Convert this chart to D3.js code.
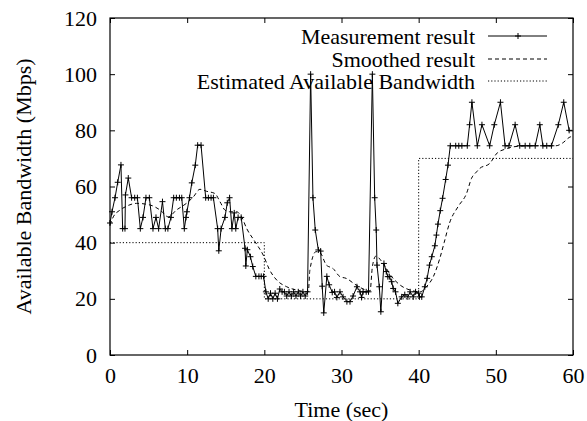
<!DOCTYPE html>
<html>
<head>
<meta charset="utf-8">
<script src="https://cdn.jsdelivr.net/npm/d3@7"></script>
<style>
  body { margin: 0; background: #fff; }
</style>
</head>
<body>
<div id="chart"></div>
<script>
// measurement result: [time (sec), Mbps]
const measured = [
  [0.0, 47], [0.26, 51], [0.65, 56], [1.0, 61.5], [1.42, 67.7], [1.64, 45], [1.94, 45], [2.0, 57],
  [2.37, 63], [2.8, 56], [3.2, 56], [3.55, 56], [3.93, 45], [4.28, 49], [4.66, 56], [5.1, 56],
  [5.57, 45], [5.96, 49], [6.3, 45], [6.8, 54.6], [7.17, 45], [7.5, 45], [7.9, 49], [8.25, 56],
  [8.6, 56], [9.0, 56], [9.3, 56], [9.63, 45], [9.85, 49], [9.97, 51], [10.3, 56], [10.6, 61.3],
  [11.05, 67.6], [11.36, 74.7], [11.8, 74.7], [12.4, 56], [12.75, 56], [13.1, 56], [13.4, 56],
  [13.95, 45], [14.1, 37.1], [14.4, 45], [14.9, 49], [15.2, 54.2], [15.5, 56], [15.8, 45],
  [16.1, 50.6], [16.3, 45], [16.6, 49], [17.0, 49], [17.5, 38], [17.6, 31.7], [17.8, 37.5],
  [18.2, 35], [18.5, 31.5], [18.9, 28], [19.3, 28], [19.6, 28], [19.9, 28], [20.2, 22.5],
  [20.5, 20], [20.8, 22], [21.1, 20], [21.4, 22], [21.7, 20], [22.0, 23.5], [22.3, 22.5],
  [22.6, 22.5], [22.9, 21], [23.2, 22.5], [23.5, 21], [23.8, 22.5], [24.1, 21], [24.4, 22.5],
  [24.7, 21], [25.0, 22.5], [25.3, 21], [25.6, 22.5], [26.0, 100], [26.3, 56], [26.6, 44.5],
  [27.0, 37.4], [27.3, 37], [27.5, 24.5], [27.7, 15], [28.1, 28], [28.4, 25], [28.8, 22.3],
  [29.1, 22.5], [29.4, 20.5], [29.8, 22.5], [30.2, 20.7], [30.7, 19], [31.1, 19], [31.5, 21],
  [32.0, 24.3], [32.4, 22.5], [32.6, 20.5], [32.8, 22.5], [33.2, 22.5], [33.5, 22.5], [34.0, 100],
  [34.3, 56], [34.5, 44.5], [34.6, 32], [34.9, 24.3], [35.1, 15.4], [35.5, 32.6], [35.8, 29.7],
  [36.0, 27.9], [36.2, 27.9], [36.5, 26.1], [36.7, 23.7], [37.0, 22.5], [37.3, 18.4], [37.8, 20.7],
  [38.2, 21.5], [38.6, 20.7], [38.9, 22.5], [39.3, 20.7], [39.6, 22.5], [40.0, 22], [40.1, 20.7],
  [40.4, 20.7], [40.8, 24.3], [41.1, 27.3], [41.4, 32], [41.7, 35], [42.1, 38.9], [42.3, 42.7],
  [42.5, 46.6], [42.8, 51.4], [43.1, 55.8], [43.5, 62.5], [43.8, 67.6], [44.1, 74.5], [44.8, 74.5],
  [45.2, 74.5], [45.6, 74.5], [46.3, 74.5], [46.6, 82], [46.9, 90], [47.6, 74.5], [48.2, 82],
  [49.2, 74.5], [49.8, 82], [50.6, 90], [51.2, 74.5], [51.7, 74.5], [52.5, 82], [53.1, 74.5],
  [53.8, 74.5], [54.4, 74.5], [55.1, 74.5], [55.7, 82], [56.1, 74.5], [56.6, 74.5], [57.2, 74.5],
  [58.1, 82], [58.8, 90], [59.5, 80]
]

// smoothed result
const smoothed = [
  [0, 46.3], [0.43, 49.2], [1.3, 51.6], [2.15, 53], [3.45, 54], [5.2, 53.4], [6.5, 51.6],
  [7.55, 49.2], [8.6, 51.6], [9.9, 54], [10.8, 56.3], [11.65, 59], [12.5, 58.3], [13.6, 57.5],
  [14.25, 54.6], [14.9, 51.6], [15.5, 51], [16.4, 51], [17.05, 49.2], [17.7, 45.1], [18.8, 40.3],
  [19.85, 35.6], [20.7, 30.2], [21.6, 26.7], [22.9, 24.3], [24.2, 23.1], [25.7, 22.5], [25.9, 30.2],
  [26.7, 36.8], [27.2, 36.5], [28.05, 32], [28.9, 30.8], [29.8, 27.9], [30.6, 27.3], [31.9, 24.9],
  [33.7, 22.8], [34.0, 31.4], [34.45, 35.2], [35.4, 32.6], [36.5, 27.9], [37.6, 24.9], [38.9, 23.1],
  [40.2, 22.5], [41.0, 24.3], [41.9, 27.9], [42.75, 34.5], [43.3, 40], [44.0, 47], [45.1, 52.8],
  [46.2, 57.5], [46.85, 62.9], [47.5, 65.2], [47.9, 66.4], [49.2, 68.2], [50.2, 72], [51.1, 73.2],
  [52.2, 74.1], [54.3, 74.5], [57.8, 74.5], [58.6, 75.4], [59.7, 77.7], [60, 77.8]
]

// estimated available bandwidth (step)
const estimated = [
  [0, 40], [20, 40], [20, 20], [40, 20], [40, 70], [60, 70]
]

const xTicks = [0, 10, 20, 30, 40, 50, 60]
const yTicks = [0, 20, 40, 60, 80, 100, 120]
const legendLabels = ['Measurement result', 'Smoothed result', 'Estimated Available Bandwidth']

const w = 587
const h = 421
const plotLeft = 110, plotRight = 573, plotTop = 18, plotBottom = 355
const serif = '"Liberation Serif"'
const fontSize = '22px'

const svg = d3.select('#chart')
    .append('svg')
    .attr('width', w)
    .attr('height', h)

const x = d3.scaleLinear().domain([0, 60]).range([plotLeft, plotRight])
const y = d3.scaleLinear().domain([0, 120]).range([plotBottom, plotTop])

// axes with inward ticks, mirrored on top and right
svg.append('g')
    .attr('transform', `translate(0,${plotBottom})`)
    .call(d3.axisBottom(x).tickValues(xTicks).tickSize(-5).tickPadding(12).tickFormat(d3.format('d')))

svg.append('g')
    .attr('transform', `translate(${plotLeft},0)`)
    .call(d3.axisLeft(y).tickValues(yTicks).tickSize(-5).tickPadding(13).tickFormat(d3.format('d')))

svg.append('g')
    .attr('transform', `translate(0,${plotTop})`)
    .call(d3.axisTop(x).tickValues(xTicks).tickSize(-5).tickFormat(''))

svg.append('g')
    .attr('transform', `translate(${plotRight},0)`)
    .call(d3.axisRight(y).tickValues(yTicks).tickSize(-5).tickFormat(''))

svg.selectAll('.domain').remove()
svg.selectAll('.tick line').attr('stroke', '#000')
svg.selectAll('.tick text')
    .style('font-family', serif)
    .style('font-size', fontSize)
    .attr('fill', '#000')

svg.append('rect')
    .attr('x', plotLeft)
    .attr('y', plotTop)
    .attr('width', plotRight - plotLeft)
    .attr('height', plotBottom - plotTop)
    .attr('fill', 'none')
    .attr('stroke', '#000')
    .attr('stroke-width', 1.2)

// axis titles
svg.append('text')
    .attr('x', (plotLeft + plotRight) / 2)
    .attr('y', 409)
    .attr('text-anchor', 'middle')
    .attr('dominant-baseline', 'central')
    .style('font-family', serif)
    .style('font-size', fontSize)
    .text('Time (sec)')

svg.append('text')
    .attr('transform', `translate(23,${(plotTop + plotBottom) / 2}) rotate(-90)`)
    .attr('text-anchor', 'middle')
    .attr('dominant-baseline', 'central')
    .style('font-family', serif)
    .style('font-size', fontSize)
    .text('Available Bandwidth (Mbps)')

const line = d3.line().x(d => x(d[0])).y(d => y(d[1]))

svg.append('path')
    .datum(estimated)
    .attr('d', line)
    .attr('fill', 'none')
    .attr('stroke', '#000')
    .attr('stroke-width', 1)
    .attr('stroke-dasharray', '1.2,2')

svg.append('path')
    .datum(smoothed)
    .attr('d', d3.line().curve(d3.curveMonotoneX).x(d => x(d[0])).y(d => y(d[1])))
    .attr('fill', 'none')
    .attr('stroke', '#000')
    .attr('stroke-width', 1)
    .attr('stroke-dasharray', '4,3')

svg.append('path')
    .datum(measured)
    .attr('d', line)
    .attr('fill', 'none')
    .attr('stroke', '#000')
    .attr('stroke-width', 1)

const plus = 'M-3,0H3M0,-3V3'
svg.selectAll('.pt')
    .data(measured)
    .enter()
    .append('path')
    .attr('class', 'pt')
    .attr('transform', d => `translate(${x(d[0])},${y(d[1])})`)
    .attr('d', plus)
    .attr('stroke', '#000')
    .attr('stroke-width', 1)

// legend
const legendY = [36, 59, 81]
const dashes = [null, '4,3', '1.2,2']
const legend = svg.selectAll('.legend')
    .data(legendLabels)
    .enter()
    .append('g')
    .attr('class', 'legend')
    .attr('transform', (d, i) => `translate(0,${legendY[i]})`)

legend.append('text')
    .attr('x', 475)
    .attr('text-anchor', 'end')
    .attr('dominant-baseline', 'central')
    .style('font-family', serif)
    .style('font-size', fontSize)
    .text(d => d)

legend.append('line')
    .attr('x1', 488)
    .attr('x2', 547)
    .attr('stroke', '#000')
    .attr('stroke-width', 1)
    .attr('stroke-dasharray', (d, i) => dashes[i])

legend.filter((d, i) => i === 0)
    .append('path')
    .attr('transform', 'translate(518,0)')
    .attr('d', plus)
    .attr('stroke', '#000')
</script>
</body>
</html>
